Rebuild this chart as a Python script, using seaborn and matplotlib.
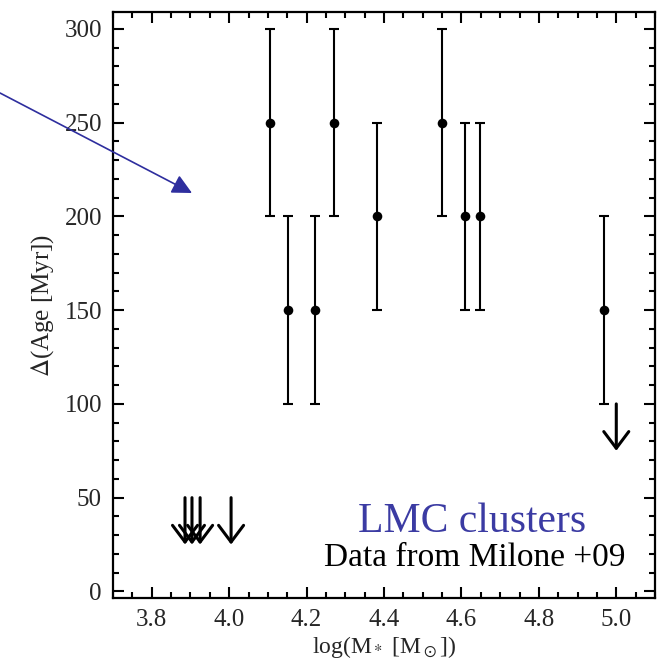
import matplotlib
matplotlib.use("Agg")
import matplotlib.pyplot as plt
from matplotlib.ticker import MultipleLocator
import seaborn as sns
import pandas as pd

# Data
log_mass = [4.106, 4.153, 4.221, 4.270, 4.382, 4.551, 4.608, 4.649, 4.969]
delta_age = [250, 150, 150, 250, 200, 250, 200, 200, 150]
age_err = [50, 50, 50, 50, 50, 50, 50, 50, 50]

ul_mass = [3.886, 3.904, 3.925, 4.005, 5.0]
ul_age = [50, 50, 50, 50, 100]

xticks = [3.8, 4.0, 4.2, 4.4, 4.6, 4.8, 5.0]
yticks = [0, 50, 100, 150, 200, 250, 300]

sns.set_style("white")
plt.rcParams['font.family'] = ['Liberation Serif', 'DejaVu Serif']
plt.rcParams['mathtext.fontset'] = 'stix'

df = pd.DataFrame({"m": log_mass, "age": delta_age, "err": age_err})

fig = plt.figure(figsize=(6.66, 6.65), dpi=100)
ax = fig.add_axes([113/666, 1-598/665, (655-113)/666, (598-12)/665])

ax.errorbar(df["m"], df["age"], yerr=df["err"], fmt='none', ecolor='black',
            elinewidth=1.5, capsize=3.5, capthick=1.5, zorder=2)
sns.scatterplot(data=df, x="m", y="age", ax=ax, color='black', s=48,
                edgecolor='black', linewidth=0, zorder=3, legend=False)

arrow_len = 25
for xm, ya in zip(ul_mass, ul_age):
    ax.annotate('', xy=(xm, ya - arrow_len), xytext=(xm, ya), xycoords='data',
                arrowprops=dict(arrowstyle='->,head_length=0.6,head_width=0.45',
                                color='black', lw=2.2, shrinkA=0, shrinkB=0,
                                mutation_scale=20))

ax.set_xlim(3.7, 5.1)
ax.set_ylim(-3.5, 309)
ax.set_xticks(xticks)
ax.set_xticklabels([f"{t:.1f}" for t in xticks])
ax.set_yticks(yticks)
ax.set_yticklabels([str(t) for t in yticks])
ax.xaxis.set_minor_locator(MultipleLocator(0.05))
ax.yaxis.set_minor_locator(MultipleLocator(10))
ax.tick_params(which='both', direction='in', top=True, right=True,
               bottom=True, left=True, width=1.5, color='black')
ax.tick_params(which='major', length=8, labelsize=18, pad=8)
ax.tick_params(which='minor', length=4)
for s in ax.spines.values():
    s.set_linewidth(1.6)
    s.set_color('black')

ax.set_xlabel(r'log(M$_*$ [M$_\odot$])', fontsize=17, labelpad=2)
ax.set_ylabel(r'$\Delta$(Age [Myr])', fontsize=18, labelpad=6)

ax.text(0.873, 0.13, 'LMC clusters', transform=ax.transAxes, fontsize=30,
        color='#3b3ba3', ha='right', va='center')
ax.text(0.945, 0.068, 'Data from Milone +09', transform=ax.transAxes,
        fontsize=24, color='black', ha='right', va='center')

fig.patches.append(matplotlib.patches.FancyArrowPatch(
    (0/666, 1-93/665), (192/666, 1-193/665), transform=fig.transFigure,
    arrowstyle='-|>,head_length=0.6,head_width=0.3', mutation_scale=20,
    color='#2e2e9e', lw=1.2, shrinkA=0, shrinkB=0, figure=fig))

fig.savefig("out.png", dpi=100, facecolor='white')
